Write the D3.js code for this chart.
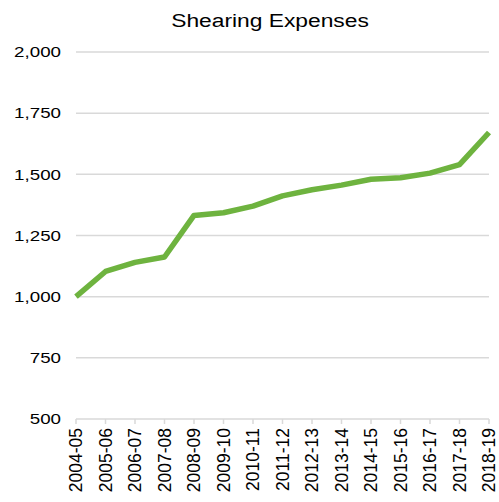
<!DOCTYPE html>
<html>
<head>
<meta charset="utf-8">
<script src="https://cdn.jsdelivr.net/npm/d3@7"></script>
<style>
  body { margin: 0; background: #fff; }
  text { font-family: "Liberation Sans", Arial, sans-serif; fill: #000; }
</style>
</head>
<body>
<div id="chart"></div>
<script>
var years = ["2004-05","2005-06","2006-07","2007-08","2008-09","2009-10","2010-11","2011-12","2012-13","2013-14","2014-15","2015-16","2016-17","2017-18","2018-19"];
var expenses = [1000, 1103, 1140, 1162, 1332, 1343, 1370, 1412, 1437, 1456, 1480, 1486, 1505, 1540, 1671];
var yTicks = [500, 750, 1000, 1250, 1500, 1750, 2000];

var W = 499, H = 502;
var margin = {top: 52, right: 10, bottom: 83, left: 76},
  width = W - margin.left - margin.right,
  height = H - margin.top - margin.bottom;

var svg = d3.select('#chart').append('svg')
  .attr('width', W)
  .attr('height', H);

// title, a little wider than the plain font like the original
svg.append('text')
  .attr('transform', 'translate(270,27) scale(1.2,1)')
  .attr('text-anchor', 'middle')
  .attr('font-size', 19)
  .text('Shearing Expenses');

var g = svg.append('g')
  .attr('transform', 'translate(' + margin.left + ',' + margin.top + ')');

var x = d3.scalePoint().domain(years).range([0, width]);
var y = d3.scaleLinear().domain([500, 2000]).range([height, 0]);

// gridlines
g.selectAll('.grid')
  .data(yTicks).enter()
  .append('line')
    .attr('class', 'grid')
    .attr('x1', 0)
    .attr('x2', width)
    .attr('y1', function(d) { return y(d); })
    .attr('y2', function(d) { return y(d); })
    .attr('stroke', '#d9d9d9')
    .attr('stroke-width', 1.5);

// y labels
g.selectAll('.ylab')
  .data(yTicks).enter()
  .append('text')
    .attr('class', 'ylab')
    .attr('transform', function(d) { return 'translate(-15,' + y(d) + ') scale(1.25,1)'; })
    .attr('dy', '0.35em')
    .attr('text-anchor', 'end')
    .attr('font-size', 15)
    .text(function(d) { return d3.format(',')(d); });

// x tick marks
g.selectAll('.xtick')
  .data(years).enter()
  .append('line')
    .attr('class', 'xtick')
    .attr('x1', function(d) { return x(d); })
    .attr('x2', function(d) { return x(d); })
    .attr('y1', height)
    .attr('y2', height + 5)
    .attr('stroke', '#d9d9d9')
    .attr('stroke-width', 1.5);

// x labels
g.selectAll('.xlab')
  .data(years).enter()
  .append('text')
    .attr('class', 'xlab')
    .attr('transform', function(d) { return 'translate(' + x(d) + ',' + (height + 9) + ') rotate(-90)'; })
    .attr('dy', '0.35em')
    .attr('text-anchor', 'end')
    .attr('font-size', 17.5)
    .text(function(d) { return d; });

var line = d3.line()
  .x(function(d, i) { return x(years[i]); })
  .y(function(d) { return y(d); });

g.append('path')
  .datum(expenses)
  .attr('d', line)
  .attr('fill', 'none')
  .attr('stroke', '#6eb33f')
  .attr('stroke-width', 5.5)
  .attr('stroke-linejoin', 'round');
</script>
</body>
</html>
